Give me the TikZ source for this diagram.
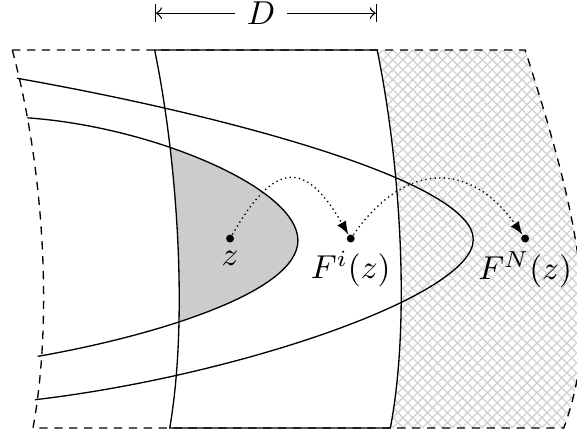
\documentclass[tikz,border=0pt]{standalone}
\usetikzlibrary{patterns}

\begin{document}
\begin{tikzpicture}[
        line width=0.4pt,
        dot/.style={circle, fill=black, inner sep=0pt, minimum size=2.4pt},
        domain edge/.style={dash pattern=on 2.5pt off 2pt},
        orbit/.style={densely dotted, -latex},
        shaded part/.style={fill=gray!40},
        hatched part/.style={pattern=crosshatch, pattern color=gray!35},
    ]

    % Rahmen des Bildes
    \useasboundingbox (0,0) rectangle (6.12,4.59);
    \clip (0,0) rectangle (6.12,4.59);

    % Randkurven des Streifens und die innere Kurve
    \def\stripleft{(1.64,4.06) .. controls (1.88,2.9) and (2.00,1.2) .. (1.80,0.05)}
    \def\stripright{(4.14,0.05) .. controls (4.36,1.2) and (4.24,2.9) .. (4.00,4.06)}
    \def\innercurve{(0.29,3.34) .. controls (1.6,3.25) and (3.16,2.6) .. (3.16,2.04)
        .. controls (3.16,1.48) and (1.6,1.02) .. (0.40,0.81)}

    % Schraffierter Bereich rechts vom Streifen
    \fill[hatched part] \stripright
        -- (5.57,4.06) .. controls (6.10,2.4) and (6.40,1.2) .. (5.98,0.05) -- cycle;

    % Grauer Teil der inneren Kurve im Streifen
    \begin{scope}
        \clip \stripleft -- \stripright -- cycle;
        \fill[shaded part] \innercurve -- cycle;
    \end{scope}

    % Streifen der Breite D
    \draw \stripleft -- \stripright -- cycle;

    % Rand des Gebiets (gestrichelt)
    \draw[domain edge] (0.13,4.06) .. controls (0.47,2.8) and (0.56,1.2) .. (0.35,0.05)
        -- (5.98,0.05) .. controls (6.40,1.2) and (6.10,2.4) .. (5.57,4.06) -- cycle;

    % Aeussere und innere Kurve
    \draw (0.18,3.76) .. controls (2.5,3.35) and (5.02,2.65) .. (5.02,2.05)
        .. controls (5.02,1.45) and (2.5,0.6) .. (0.37,0.35);
    \draw \innercurve;

    % Punkte und Bahn
    \node[dot, label={[label distance=-1pt]below:$z$}] (z) at (2.44,2.06) {};
    \node[dot, label={[label distance=-1pt]below:$F^i(z)$}] (Fi) at (3.72,2.06) {};
    \node[dot, label={[label distance=-1pt]below:$F^N(z)$}] (FN) at (5.57,2.06) {};

    \draw[orbit] (z) to[out=60, in=120, looseness=1.9] (Fi);
    \draw[orbit] (Fi) to[out=55, in=125, looseness=1.37] (FN);

    % Breite D
    \node (D) at (2.77,4.45) {$D$};
    \coordinate (Dl) at (1.64,4.45);
    \coordinate (Dr) at (4.00,4.45);
    \draw[|<-] (Dl) -- (D);
    \draw[->|] (D) -- (Dr);

\end{tikzpicture}
\end{document}
